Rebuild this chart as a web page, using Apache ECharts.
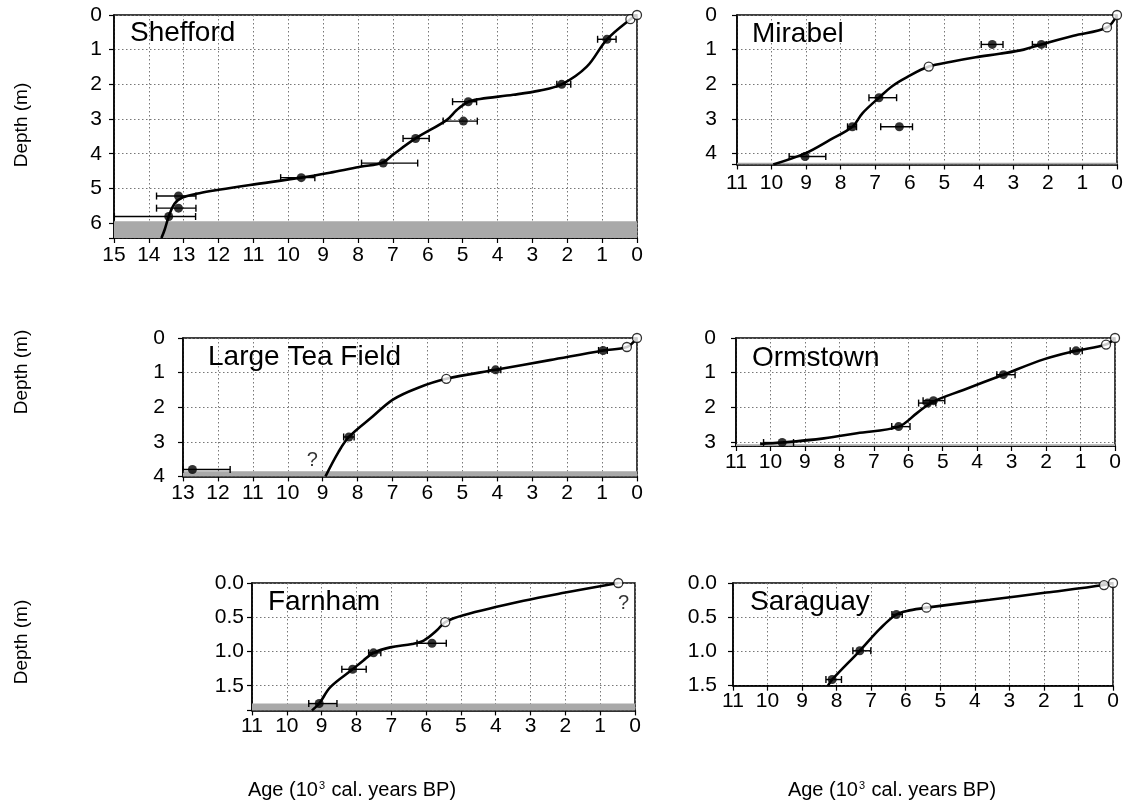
<!DOCTYPE html>
<html><head><meta charset="utf-8">
<script src="https://cdn.jsdelivr.net/npm/echarts@6/dist/echarts.min.js"></script>
<style>html,body{margin:0;padding:0;background:#fff}#c{width:1133px;height:809px}</style>
</head><body><div id="c"></div>
<script>
// ---------- DATA (age in 10^3 cal. yr BP, depth in m) ----------
const sheffordCurve = [[0,0],[0.19,0.12],[0.86,0.7],[1.44,1.49],[2.16,2.0],[2.8,2.18],[3.55,2.3],[4.5,2.42],[4.84,2.5],[5.17,2.74],[5.46,3.03],[6.35,3.56],[6.99,4.02],[7.3,4.26],[7.9,4.37],[8.72,4.53],[9.63,4.69],[11.1,4.9],[12.0,5.04],[12.55,5.14],[13.07,5.28],[13.27,5.45],[13.43,5.81],[13.55,6.2],[13.64,6.43]];
const sheffordDates = [[13.15,5.22],[13.15,5.57],[13.43,5.81],[9.63,4.69],[7.28,4.27],[6.35,3.56],[4.98,3.06],[4.84,2.5],[2.16,2.0],[0.86,0.7]];
const sheffordErrors = [[13.78,12.65,5.22],[13.78,12.65,5.57],[14.99,12.66,5.81],[10.22,9.24,4.69],[7.9,6.29,4.27],[6.71,5.96,3.56],[5.56,4.58,3.06],[5.29,4.6,2.5],[2.3,1.9,2.0],[1.13,0.6,0.7]];
const sheffordOpen = [[0.19,0.12],[0,0]];
const sheffordBand = [[5.95,6.43]];

const mirabelCurve = [[0,0],[0.29,0.36],[1.26,0.6],[2.19,0.85],[2.7,1.0],[3.4,1.12],[4.09,1.22],[4.8,1.35],[5.45,1.49],[6.09,1.8],[6.5,2.05],[6.89,2.39],[7.37,2.84],[7.66,3.23],[8.31,3.61],[9.03,4.0],[9.95,4.32]];
const mirabelDates = [[3.61,0.85],[2.19,0.85],[6.89,2.39],[7.66,3.23],[6.3,3.23],[9.03,4.09]];
const mirabelErrors = [[3.93,3.3,0.85],[2.45,2.05,0.85],[7.18,6.38,2.39],[7.8,7.54,3.23],[6.84,5.92,3.23],[9.49,8.43,4.09]];
const mirabelOpen = [[0.29,0.36],[0,0],[5.45,1.49]];
const mirabelBand = [[4.27,4.32]];

const teaCurve = [[0,0],[0.29,0.26],[0.97,0.36],[2.5,0.64],[4.05,0.92],[5.46,1.18],[6.3,1.45],[6.99,1.78],[7.57,2.27],[8.25,2.86],[8.55,3.3],[8.92,4.0]];
const teaDates = [[0.97,0.36],[4.05,0.92],[8.25,2.86],[12.73,3.8]];
const teaErrors = [[1.1,0.85,0.36],[4.25,3.9,0.92],[8.4,8.1,2.86],[13.0,11.65,3.8]];
const teaOpen = [[0,0],[0.29,0.26],[5.46,1.18]];
const teaBand = [[3.85,4.0]];
const teaQuery = [[9.3,3.55]];

const ormCurve = [[0,0],[0.26,0.19],[1.13,0.37],[2.05,0.61],[3.24,1.06],[4.4,1.5],[5.3,1.85],[5.75,2.17],[6.28,2.56],[7.49,2.75],[8.45,2.9],[9.66,3.02],[10.3,3.06]];
const ormDates = [[1.13,0.37],[3.24,1.06],[5.27,1.81],[5.44,1.88],[6.28,2.56],[9.66,3.02]];
const ormErrors = [[1.3,0.95,0.37],[3.43,2.9,1.06],[5.57,4.94,1.81],[5.7,5.2,1.88],[6.48,5.95,2.56],[10.2,9.33,3.02]];
const ormOpen = [[0,0],[0.26,0.19]];
const ormBand = [[3.07,3.12]];

const farnCurve = [[0.48,0],[2.0,0.14],[3.2,0.26],[4.93,0.47],[5.45,0.57],[5.69,0.69],[6.07,0.84],[6.4,0.89],[7.03,0.94],[7.51,1.02],[7.8,1.13],[8.11,1.26],[8.75,1.52],[9.07,1.76],[9.28,1.86]];
const farnDates = [[5.83,0.88],[7.51,1.02],[8.11,1.26],[9.07,1.76]];
const farnErrors = [[6.26,5.42,0.88],[7.65,7.3,1.02],[8.42,7.72,1.26],[9.37,8.56,1.76]];
const farnOpen = [[0.48,0],[5.45,0.57]];
const farnBand = [[1.76,1.86]];
const farnQuery = [[0.33,0.3]];

const saraCurve = [[0,0],[0.26,0.03],[1.93,0.14],[3.57,0.245],[5.4,0.36],[5.89,0.4],[6.27,0.46],[6.75,0.67],[7.33,0.99],[8.13,1.41],[8.25,1.5]];
const saraDates = [[6.27,0.46],[7.33,0.99],[8.13,1.41]];
const saraErrors = [[6.4,6.1,0.46],[7.53,7.01,0.99],[8.31,7.86,1.41]];
const saraOpen = [[0,0],[0.26,0.03],[5.4,0.36]];
const saraBand = [];

const ticksInt6 = [0,1,2,3,4,5,6];
const ticksInt4 = [0,1,2,3,4];
const ticksInt3 = [0,1,2,3];
const ticksHalf = [0,0.5,1,1.5];

// ---------- LAYOUT ----------
const FONT = '"Liberation Sans", Arial, sans-serif';
const panels = [
  {name:'Shefford', grid:{left:114,top:15,width:523,height:223}, xMax:15, yMax:6.43, yInt:1, yTicks:ticksInt6, dec:0, margin:12, xMargin:7, title:[130,33],
   curve:sheffordCurve, dates:sheffordDates, errors:sheffordErrors, open:sheffordOpen, band:sheffordBand, query:[]},
  {name:'Mirabel', grid:{left:737,top:15,width:380,height:149.5}, xMax:11, yMax:4.32, yInt:1, yTicks:ticksInt4, dec:0, margin:20, xMargin:8, title:[752,34],
   curve:mirabelCurve, dates:mirabelDates, errors:mirabelErrors, open:mirabelOpen, band:mirabelBand, query:[]},
  {name:'Large Tea Field', grid:{left:183,top:338,width:454,height:138.4}, xMax:13, yMax:4, yInt:1, yTicks:ticksInt4, dec:0, margin:18, xMargin:6, title:[208,357],
   curve:teaCurve, dates:teaDates, errors:teaErrors, open:teaOpen, band:teaBand, query:teaQuery},
  {name:'Ormstown', grid:{left:736,top:338,width:379,height:108}, xMax:11, yMax:3.12, yInt:1, yTicks:ticksInt3, dec:0, margin:20, xMargin:6, title:[752,358],
   curve:ormCurve, dates:ormDates, errors:ormErrors, open:ormOpen, band:ormBand, query:[]},
  {name:'Farnham', grid:{left:252,top:583,width:383,height:127.4}, xMax:11, yMax:1.86, yInt:0.5, yTicks:ticksHalf, dec:1, margin:8, xMargin:5, title:[268,602],
   curve:farnCurve, dates:farnDates, errors:farnErrors, open:farnOpen, band:farnBand, query:farnQuery},
  {name:'Saraguay', grid:{left:733,top:583,width:380,height:102.7}, xMax:11, yMax:1.5, yInt:0.5, yTicks:ticksHalf, dec:1, margin:16, xMargin:5, title:[750,602],
   curve:saraCurve, dates:saraDates, errors:saraErrors, open:saraOpen, band:saraBand, query:[]}
];

const grids = panels.map(p => Object.assign({show:true, borderColor:'#000', borderWidth:1.5, backgroundColor:'transparent'}, p.grid));
const split = {show:true, lineStyle:{color:'#777', type:[1.5,2.5], width:1}};
const xAxes = panels.map((p,i)=>({
  gridIndex:i, type:'value', inverse:true, min:0, max:p.xMax, interval:1, position:'bottom',
  axisLine:{show:true, onZero:false, lineStyle:{color:'#000', width:1.5}},
  axisTick:{show:true, inside:false, length:5, lineStyle:{color:'#000', width:1.2}},
  axisLabel:{fontFamily:FONT, fontSize:21, color:'#000', margin:p.xMargin},
  splitLine:split
}));
const yAxes = panels.map((p,i)=>({
  gridIndex:i, type:'value', inverse:true, min:0, max:p.yMax, interval:p.yInt, position:'left',
  axisLine:{show:true, onZero:false, lineStyle:{color:'#000', width:1.5}},
  axisTick:{show:true, inside:false, length:5, lineStyle:{color:'#000', width:1.2}},
  axisLabel:{fontFamily:FONT, fontSize:21, color:'#000', margin:p.margin,
    formatter:(v)=>{ const ok = p.yTicks.some(t=>Math.abs(t-v)<1e-6); return ok ? v.toFixed(p.dec) : ''; }},
  splitLine:split
}));

function errRender(params, api){
  const a = api.coord([api.value(0), api.value(2)]);
  const b = api.coord([api.value(1), api.value(2)]);
  const h = 3.5, st = {stroke:'#000', lineWidth:1.4};
  return {type:'group', children:[
    {type:'line', shape:{x1:a[0],y1:a[1],x2:b[0],y2:b[1]}, style:st},
    {type:'line', shape:{x1:a[0],y1:a[1]-h,x2:a[0],y2:a[1]+h}, style:st},
    {type:'line', shape:{x1:b[0],y1:b[1]-h,x2:b[0],y2:b[1]+h}, style:st}
  ]};
}
function bandRender(params, api){
  const cs = params.coordSys;
  const y1 = api.coord([0, api.value(0)])[1];
  const y2 = api.coord([0, api.value(1)])[1];
  return {type:'rect', shape:{x:cs.x, y:y1, width:cs.width, height:y2-y1}, style:{fill:'#a9a9a9'}};
}

const series = [];
panels.forEach((p,i)=>{
  series.push({type:'custom', xAxisIndex:i, yAxisIndex:i, data:p.band, renderItem:bandRender, encode:{y:[0,1]}, z:1, silent:true});
  series.push({type:'line', xAxisIndex:i, yAxisIndex:i, data:p.curve, smooth:0.35, showSymbol:false, clip:true,
    lineStyle:{color:'#000', width:2.6}, z:3, silent:true});
  series.push({type:'custom', xAxisIndex:i, yAxisIndex:i, data:p.errors, renderItem:errRender, encode:{x:[0,1], y:2}, z:4, silent:true});
  series.push({type:'scatter', xAxisIndex:i, yAxisIndex:i, data:p.dates, symbol:'circle', symbolSize:9,
    itemStyle:{color:'#000'}, z:5, silent:true});
  series.push({type:'scatter', xAxisIndex:i, yAxisIndex:i, data:p.open, symbol:'circle', symbolSize:9,
    itemStyle:{color:'#fff', borderColor:'#000', borderWidth:1.3}, z:6, silent:true});
  if (p.query.length) series.push({type:'scatter', xAxisIndex:i, yAxisIndex:i, data:p.query, symbolSize:1,
    itemStyle:{color:'rgba(0,0,0,0)'}, z:6, silent:true,
    label:{show:true, position:'inside', formatter:'?', fontFamily:FONT, fontSize:20, color:'#000'}});
});

const graphic = [];
panels.forEach(p=>{
  graphic.push({type:'text', x:p.title[0], y:p.title[1], z:10, style:{text:p.name, font:'28px '+FONT, fill:'#000',
    align:'left', verticalAlign:'middle', textAlign:'left', textVerticalAlign:'middle'}});
});
[125, 372, 642].forEach(y=>{
  graphic.push({type:'text', x:22, y:y, rotation:Math.PI/2, style:{text:'Depth (m)', font:'19px '+FONT, fill:'#000',
    align:'center', verticalAlign:'middle', textAlign:'center', textVerticalAlign:'middle'}});
});
[352, 892].forEach(x=>{
  graphic.push({type:'text', x:x, y:790, style:{text:'Age (10{sup|3} cal. years BP)', font:'20px '+FONT, fill:'#000',
    align:'center', verticalAlign:'middle', textAlign:'center', textVerticalAlign:'middle',
    rich:{sup:{fontSize:11, fontFamily:FONT, verticalAlign:'top', padding:[0,1,9,1]}}}});
});

const chart = echarts.init(document.getElementById('c'), null, {renderer:'canvas'});
chart.setOption({animation:false, backgroundColor:'#fff', grid:grids, xAxis:xAxes, yAxis:yAxes, series:series, graphic:graphic});
</script></body></html>
